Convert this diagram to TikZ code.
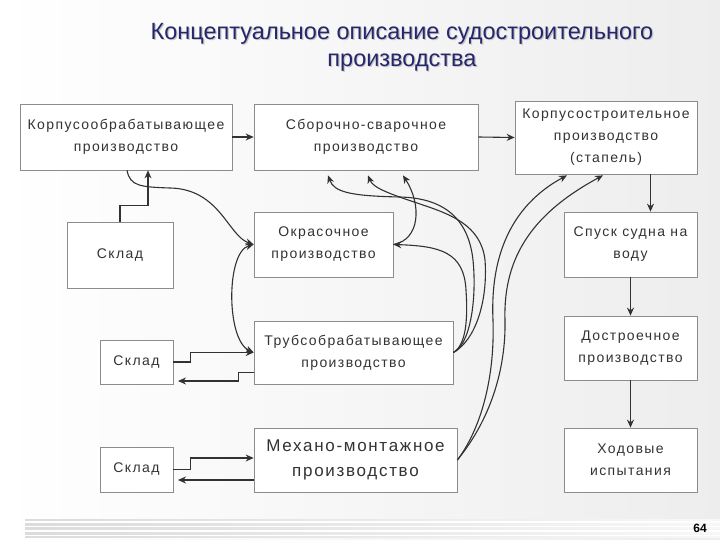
\documentclass[tikz,border=0pt]{standalone}
\usepackage{fontspec}
\setmainfont{Liberation Sans}
\newfontfamily\boxfont[LetterSpace=10]{Liberation Sans}
\usetikzlibrary{arrows.meta}
\definecolor{titleblue}{RGB}{38,38,108}
\definecolor{linec}{RGB}{50,50,50}
\definecolor{boxline}{RGB}{140,140,140}
\begin{document}
\begin{tikzpicture}[x=1pt,y=-1pt,
  box/.style={draw=boxline, fill=white, line width=0.7pt, inner sep=0pt, align=center,
    text=black!80, font=\boxfont\fontsize{14}{22}\selectfont},
  arr/.style={draw=linec, line width=1.1pt, -{Stealth[length=8pt,width=7pt]}},
  arrb/.style={draw=linec, line width=1.1pt, {Stealth[length=8pt,width=7pt]}-{Stealth[length=8pt,width=7pt]}},
  ttl/.style={font=\fontsize{23.5}{27}\selectfont, align=center}]
\useasboundingbox (0,0) rectangle (720,540);
\shade[left color=white, right color=gray!14] (0,0) rectangle (720,540);
% bottom band
\shade[left color=gray!28, right color=gray!6] (25,519) rectangle (720,537);
\foreach \yy in {522,526.5,531,535.5} \draw[white, line width=1.2pt] (25,\yy) -- (720,\yy);
% title
\node[ttl, text=gray!45] at (403.2,48.2) {Концептуальное описание судостроительного\\производства};
\node[ttl, text=titleblue] (title) at (402,47) {Концептуальное описание судостроительного\\производства};
\node[font=\bfseries\fontsize{12}{14}\selectfont] (page) at (700,528) {64};
% boxes
\node[box, minimum width=212pt, minimum height=66pt] (korp) at (126,137) {Корпусообрабатывающее\\производство};
\node[box, minimum width=224pt, minimum height=66pt] (sbor) at (366,137) {Сборочно-сварочное\\производство};
\node[box, minimum width=182pt, minimum height=73pt] (kstr) at (606,137.5) {Корпусостроительное\\производство\\(стапель)};
\node[box, minimum width=106pt, minimum height=66pt] (sklad1) at (120,255) {Склад};
\node[box, minimum width=139pt, minimum height=65pt] (okr) at (323.5,244.5) {Окрасочное\\производство};
\node[box, minimum width=133pt, minimum height=65pt] (spusk) at (630.5,244.5) {Спуск судна на\\воду};
\node[box, minimum width=73pt, minimum height=44pt] (sklad2) at (136.5,362) {Склад};
\node[box, minimum width=199pt, minimum height=63pt] (trub) at (353.5,352.5) {Трубсобрабатывающее\\производство};
\node[box, minimum width=133pt, minimum height=64pt] (dostr) at (630.5,348) {Достроечное\\производство};
\node[box, minimum width=73pt, minimum height=45pt] (sklad3) at (136.5,469.5) {Склад};
\node[box, minimum width=203pt, minimum height=64pt, font=\boxfont\fontsize{17}{25}\selectfont] (meh) at (355.5,460) {Механо-монтажное\\производство};
\node[box, minimum width=133pt, minimum height=64pt] (hod) at (630.5,460) {Ходовые\\испытания};
% free ends
\coordinate (s2in) at (178,381);
\coordinate (s3in) at (178,480);
\path (kstr.south) ++(44.5,0) coordinate (ka);
% straight connectors
\draw[arr] (korp.east) -- (sbor.west);
\draw[arr] (sbor.east) -- (kstr.west);
\draw[arr] (ka) -- (ka |- spusk.north);
\draw[arr] (spusk.south) -- (dostr.north);
\draw[arr] (dostr.south) -- (hod.north);
% warehouses
\draw[arr] (sklad1.north) -- ++(0,-16) -| ([xshift=22pt]korp.south);
\draw[arr] (sklad2.east) -- ++(17,0) |- (trub.west);
\draw[arr] ([yshift=-20pt]trub.west) -- ++(-15,0) |- (s2in);
\draw[arr] (sklad3.east) -- ++(17,0) |- ([yshift=2pt]meh.west);
\draw[arr] ([yshift=-20pt]meh.west) -- (s3in);
% curves left
\draw[arr] ([xshift=1pt]korp.south) .. controls (130,186) and (140,187) .. (170,188)
  .. controls (220,189) and (228,236) .. (okr.west);
\draw[arrb] (okr.west) .. controls (226,252) and (226,340) .. (trub.west);
% curves right
\draw[arr] (trub.east) .. controls (466,345) and (468,320) .. (466,290)
  .. controls (464,252) and (440,246) .. (okr.east);
\draw[arr] (okr.east) .. controls (420,240) and (422,205) .. ([xshift=37pt,yshift=-5pt]sbor.south);
\draw[arr] (trub.east) .. controls (470,345) and (477,300) .. (473,260)
  .. controls (468,215) and (440,198) .. (400,197)
  .. controls (350,196) and (334,192) .. ([xshift=-38pt,yshift=-5pt]sbor.south);
\draw[arr] (trub.east) .. controls (476,340) and (488,300) .. (485,260)
  .. controls (481,225) and (450,214) .. (420,204)
  .. controls (390,194) and (373,188) .. ([xshift=2pt,yshift=-5pt]sbor.south);
\draw[arr] (meh.east) .. controls (480,430) and (495,380) .. (493,320)
  .. controls (490,255) and (512,205) .. ([xshift=-39pt,yshift=-1pt]kstr.south);
\draw[arr] (meh.east) .. controls (490,420) and (506,370) .. (505,320)
  .. controls (503,255) and (535,212) .. ([xshift=-3pt,yshift=-1pt]kstr.south);
\end{tikzpicture}
\end{document}
